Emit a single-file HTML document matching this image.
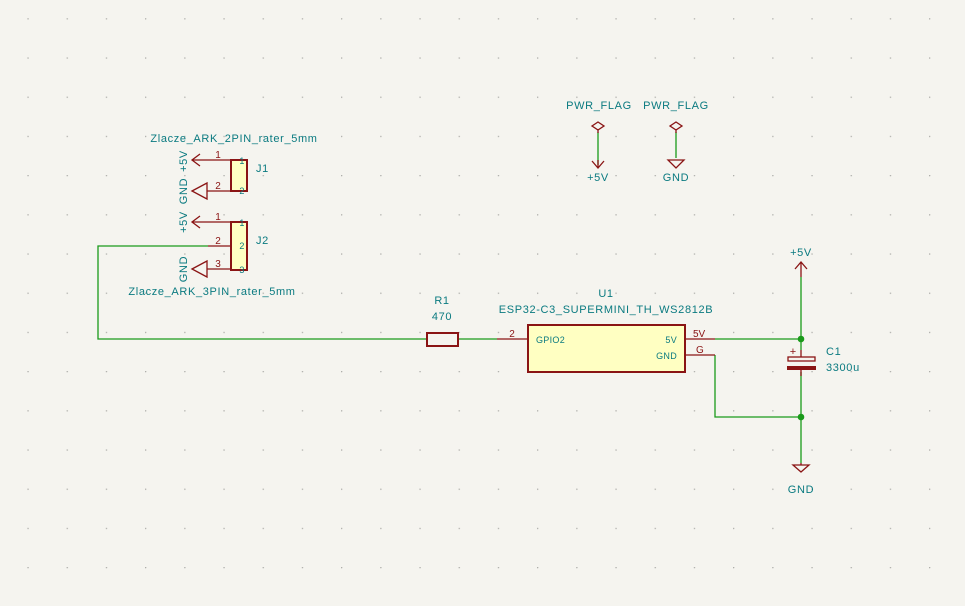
<!DOCTYPE html>
<html><head><meta charset="utf-8"><style>
html,body{margin:0;padding:0;background:#f5f4ef;}
svg{display:block;}
text{font-family:"Liberation Sans",sans-serif;font-size:11px;fill:#0a7a80;letter-spacing:0.65px;}
.r{fill:#8a1414;font-size:10px;letter-spacing:0;}
.s{font-size:9px;letter-spacing:0.3px;}
</style></head><body>
<svg width="965" height="606" viewBox="0 0 965 606" xmlns="http://www.w3.org/2000/svg">
<defs><pattern id="g" x="27.4" y="18.2" width="39.2" height="39.2" patternUnits="userSpaceOnUse"><circle cx="0.6" cy="0.6" r="0.75" fill="#aeaeaa"/></pattern></defs>
<rect width="965" height="606" fill="#f5f4ef"/>
<rect width="965" height="606" fill="url(#g)"/>

<!-- J1 -->
<text x="234" y="142" text-anchor="middle">Zlacze_ARK_2PIN_rater_5mm</text>
<g stroke="#8a1414" stroke-width="1.3" fill="none">
<line x1="192" y1="160" x2="231" y2="160"/><polyline points="200,154 192,160 200,166"/>
<line x1="207" y1="191" x2="231" y2="191"/><polygon points="192,191 207,183 207,199"/>
<line x1="192" y1="222" x2="231" y2="222"/><polyline points="200,216 192,222 200,228"/>
<line x1="208" y1="246" x2="231" y2="246"/>
<line x1="207" y1="269" x2="231" y2="269"/><polygon points="192,269 207,261 207,277"/>
</g>
<rect x="231" y="160" width="16" height="31" fill="#ffffc2" stroke="#8a1414" stroke-width="2"/>
<rect x="231" y="222" width="16" height="48" fill="#ffffc2" stroke="#8a1414" stroke-width="2"/>
<text class="r" x="218" y="158" text-anchor="middle">1</text>
<text class="r" x="218" y="189" text-anchor="middle">2</text>
<text class="r" x="218" y="220" text-anchor="middle">1</text>
<text class="r" x="218" y="244" text-anchor="middle">2</text>
<text class="r" x="218" y="267" text-anchor="middle">3</text>
<text class="s" x="242" y="164" text-anchor="middle">1</text>
<text class="s" x="242" y="194" text-anchor="middle">2</text>
<text class="s" x="242" y="226" text-anchor="middle">1</text>
<text class="s" x="242" y="249" text-anchor="middle">2</text>
<text class="s" x="242" y="273" text-anchor="middle">3</text>
<text x="256" y="172">J1</text>
<text x="256" y="244">J2</text>
<text transform="translate(187,161) rotate(-90)" text-anchor="middle">+5V</text>
<text transform="translate(187,191) rotate(-90)" text-anchor="middle">GND</text>
<text transform="translate(187,222) rotate(-90)" text-anchor="middle">+5V</text>
<text transform="translate(187,269) rotate(-90)" text-anchor="middle">GND</text>
<text x="212" y="295" text-anchor="middle">Zlacze_ARK_3PIN_rater_5mm</text>

<!-- wires -->
<g stroke="#1a9a1a" stroke-width="1.3" fill="none">
<polyline points="208,246 98,246 98,339 426,339"/>
<line x1="458" y1="339" x2="497" y2="339"/>
<line x1="715" y1="339" x2="801" y2="339"/>
<polyline points="715,355 715,417 801,417"/>
<line x1="801" y1="277" x2="801" y2="350"/>
<line x1="801" y1="372" x2="801" y2="463"/>
<line x1="598" y1="132" x2="598" y2="165"/>
<line x1="676" y1="132" x2="676" y2="158"/>
</g>
<circle cx="801" cy="339" r="3.3" fill="#1a9a1a"/>
<circle cx="801" cy="417" r="3.3" fill="#1a9a1a"/>

<!-- R1 -->
<rect x="427" y="333" width="31" height="13" fill="none" stroke="#8a1414" stroke-width="2"/>
<text x="442" y="304" text-anchor="middle">R1</text>
<text x="442" y="320" text-anchor="middle">470</text>

<!-- U1 -->
<g stroke="#8a1414" stroke-width="1.3">
<line x1="497" y1="339" x2="528" y2="339"/>
<line x1="685" y1="339" x2="715" y2="339"/>
<line x1="685" y1="355" x2="715" y2="355"/>
</g>
<rect x="528" y="325" width="157" height="47" fill="#ffffc2" stroke="#8a1414" stroke-width="2"/>
<text x="606" y="297" text-anchor="middle">U1</text>
<text x="606" y="313" text-anchor="middle">ESP32-C3_SUPERMINI_TH_WS2812B</text>
<text class="s" x="536" y="343">GPIO2</text>
<text class="s" x="677" y="343" text-anchor="end">5V</text>
<text class="s" x="677" y="359" text-anchor="end">GND</text>
<text class="r" x="512" y="337" text-anchor="middle">2</text>
<text class="r" x="693" y="337">5V</text>
<text class="r" x="696" y="353">G</text>

<!-- +5V right -->
<g stroke="#8a1414" stroke-width="1.3" fill="none">
<line x1="801" y1="262" x2="801" y2="277"/><polyline points="795,269 801,262 807,269"/>
<line x1="801" y1="463" x2="801" y2="465"/><polygon points="793,465 809,465 801,472"/>
</g>
<text x="801" y="256" text-anchor="middle">+5V</text>
<text x="801" y="493" text-anchor="middle">GND</text>

<!-- C1 -->
<rect x="788" y="357" width="27" height="4" fill="none" stroke="#8a1414" stroke-width="1.3"/>
<rect x="787" y="366" width="29" height="4" fill="#8a1414"/>
<line x1="801" y1="350" x2="801" y2="357" stroke="#8a1414" stroke-width="1.3"/>
<line x1="801" y1="370" x2="801" y2="376" stroke="#8a1414" stroke-width="1.3"/>
<text class="r" x="793" y="355" text-anchor="middle" style="font-size:11px">+</text>
<text x="826" y="355">C1</text>
<text x="826" y="371">3300u</text>

<!-- PWR_FLAGs -->
<text x="599" y="109" text-anchor="middle">PWR_FLAG</text>
<text x="676" y="109" text-anchor="middle">PWR_FLAG</text>
<g stroke="#8a1414" stroke-width="1.3" fill="none">
<polygon points="598,122 604,126 598,130 592,126"/>
<polygon points="676,122 682,126 676,130 670,126"/>
<line x1="598" y1="130" x2="598" y2="133"/>
<line x1="676" y1="130" x2="676" y2="133"/>
<line x1="598" y1="160" x2="598" y2="168"/><polyline points="592,161 598,168 604,161"/>
<polygon points="668,160 684,160 676,168"/>
</g>
<text x="598" y="181" text-anchor="middle">+5V</text>
<text x="676" y="181" text-anchor="middle">GND</text>
</svg>
</body></html>
